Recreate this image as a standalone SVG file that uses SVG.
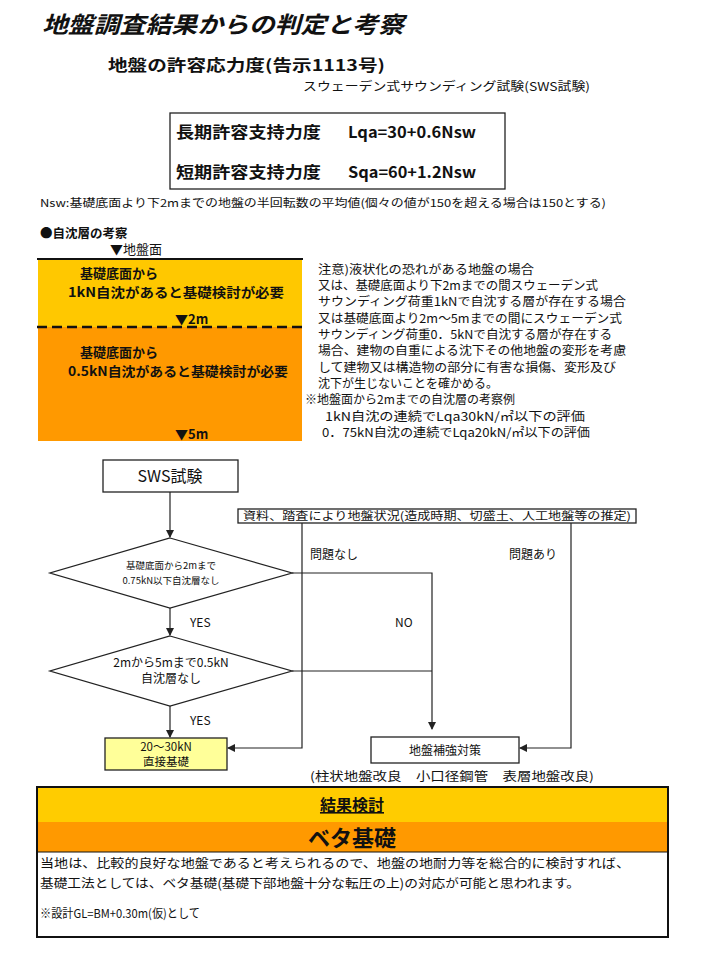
<svg xmlns="http://www.w3.org/2000/svg" width="720" height="960" viewBox="0 0 720 960">
<style>
text{font-family:"Noto Sans CJK JP","Liberation Sans",sans-serif;fill:#111}
.b{font-weight:bold}
.box{fill:#fff;stroke:#222;stroke-width:1.3}
.ln{fill:none;stroke:#222;stroke-width:1.2}
.n{font-size:11.5px}
.s{font-size:11px}
</style>
<defs>
<marker id="ah" markerWidth="8" markerHeight="8" refX="7" refY="4" orient="auto" markerUnits="userSpaceOnUse">
<path d="M0,0 L8,4 L0,8 z" fill="#222"/>
</marker>
</defs>
<rect width="720" height="960" fill="#fff"/>

<g id="title">
<text x="42" y="33" class="b" font-size="23" font-style="italic" textLength="362" lengthAdjust="spacingAndGlyphs">地盤調査結果からの判定と考察</text>
<text x="108" y="71" class="b" font-size="15.5" textLength="277" lengthAdjust="spacingAndGlyphs">地盤の許容応力度(告示1113号)</text>
<text x="303" y="91" font-size="12" textLength="287" lengthAdjust="spacingAndGlyphs">スウェーデン式サウンディング試験(SWS試験)</text>
</g>

<g id="formula">
<rect x="170" y="113" width="335" height="76" class="box"/>
<text x="176" y="138" class="b" font-size="15.5" textLength="145" lengthAdjust="spacingAndGlyphs">長期許容支持力度</text>
<text x="348" y="138" class="b" font-size="15.5" textLength="128" lengthAdjust="spacingAndGlyphs">Lqa=30+0.6Nsw</text>
<text x="176" y="178" class="b" font-size="15.5" textLength="145" lengthAdjust="spacingAndGlyphs">短期許容支持力度</text>
<text x="348" y="178" class="b" font-size="15.5" textLength="128" lengthAdjust="spacingAndGlyphs">Sqa=60+1.2Nsw</text>
</g>
<text x="40" y="207" class="s" textLength="566" lengthAdjust="spacingAndGlyphs">Nsw:基礎底面より下2mまでの地盤の半回転数の平均値(個々の値が150を超える場合は150とする)</text>

<g id="soil">
<text x="40" y="238" class="b" font-size="12.5">●自沈層の考察</text>
<text x="110" y="254" font-size="13">▼地盤面</text>
<rect x="38" y="259" width="264" height="68" fill="#FFC800"/>
<rect x="38" y="327" width="264" height="114" fill="#FF9900"/>
<line x1="37" y1="259" x2="303" y2="259" stroke="#111" stroke-width="2"/>
<line x1="37" y1="327" x2="303" y2="327" stroke="#111" stroke-width="2.5" stroke-dasharray="10,5"/>
<text x="80" y="278" class="b" font-size="13">基礎底面から</text>
<text x="68" y="297" class="b" font-size="13" textLength="216" lengthAdjust="spacingAndGlyphs">1kN自沈があると基礎検討が必要</text>
<text x="175" y="324" class="b" font-size="13">▼2m</text>
<text x="80" y="357" class="b" font-size="13">基礎底面から</text>
<text x="68" y="376" class="b" font-size="13" textLength="220" lengthAdjust="spacingAndGlyphs">0.5kN自沈があると基礎検討が必要</text>
<text x="175" y="439" class="b" font-size="13">▼5m</text>
</g>

<g id="notes" font-size="12">
<text x="318" y="274" textLength="216" lengthAdjust="spacingAndGlyphs">注意)液状化の恐れがある地盤の場合</text>
<text x="318" y="290" textLength="280" lengthAdjust="spacingAndGlyphs">又は、基礎底面より下2mまでの間スウェーデン式</text>
<text x="318" y="306" textLength="308" lengthAdjust="spacingAndGlyphs">サウンディング荷重1kNで自沈する層が存在する場合</text>
<text x="318" y="323" textLength="304" lengthAdjust="spacingAndGlyphs">又は基礎底面より2m〜5mまでの間にスウェーデン式</text>
<text x="318" y="339" textLength="294" lengthAdjust="spacingAndGlyphs">サウンディング荷重0．5kNで自沈する層が存在する</text>
<text x="318" y="355" textLength="308" lengthAdjust="spacingAndGlyphs">場合、建物の自重による沈下その他地盤の変形を考慮</text>
<text x="318" y="372" textLength="298" lengthAdjust="spacingAndGlyphs">して建物又は構造物の部分に有害な損傷、変形及び</text>
<text x="318" y="388" textLength="180" lengthAdjust="spacingAndGlyphs">沈下が生じないことを確かめる。</text>
<text x="305" y="404" textLength="210" lengthAdjust="spacingAndGlyphs">※地盤面から2mまでの自沈層の考察例</text>
<text x="325" y="421" textLength="260" lengthAdjust="spacingAndGlyphs">1kN自沈の連続でLqa30kN/㎡以下の評価</text>
<text x="322" y="437" textLength="268" lengthAdjust="spacingAndGlyphs">0．75kN自沈の連続でLqa20kN/㎡以下の評価</text>
</g>

<g id="connectors" class="ln">
<line x1="170" y1="492" x2="170" y2="537" marker-end="url(#ah)"/>
<line x1="170" y1="608" x2="170" y2="635" marker-end="url(#ah)"/>
<line x1="170" y1="706" x2="170" y2="737" marker-end="url(#ah)"/>
<polyline points="292,573 432,573 432,729" marker-end="url(#ah)"/>
<line x1="292" y1="671" x2="432" y2="671"/>
<polyline points="302,523 302,748 228,748" marker-end="url(#ah)"/>
<polyline points="571,523 571,748 520,748" marker-end="url(#ah)"/>
</g>

<g id="sws">
<rect x="103" y="460" width="135" height="32" class="box"/>
<text x="170" y="482" text-anchor="middle" font-size="16">SWS試験</text>
</g>
<g id="survey">
<rect x="238" y="509" width="398" height="14" class="box"/>
<text x="437" y="520" text-anchor="middle" font-size="11" textLength="388" lengthAdjust="spacingAndGlyphs">資料、踏査により地盤状況(造成時期、切盛土、人工地盤等の推定)</text>
</g>
<g id="d1">
<polygon points="170,538 292,573 170,608 50,573" class="box"/>
<text x="171" y="569" text-anchor="middle" font-size="9.5">基礎底面から2mまで</text>
<text x="171" y="584" text-anchor="middle" font-size="9.5">0.75kN以下自沈層なし</text>
</g>
<g id="d2">
<polygon points="170,636 292,671 170,706 50,671" class="box"/>
<text x="171" y="667" text-anchor="middle" font-size="12">2mから5mまで0.5kN</text>
<text x="171" y="683" text-anchor="middle" font-size="12">自沈層なし</text>
</g>
<g id="labels" font-size="12">
<text x="190" y="627">YES</text>
<text x="190" y="725">YES</text>
<text x="395" y="627">NO</text>
<text x="310" y="559">問題なし</text>
<text x="509" y="559">問題あり</text>
</g>
<g id="direct">
<rect x="105" y="738" width="122" height="32" fill="#FFFF99" stroke="#222" stroke-width="1.3"/>
<text x="166" y="751" text-anchor="middle" font-size="11.5">20〜30kN</text>
<text x="166" y="766" text-anchor="middle" font-size="11.5">直接基礎</text>
</g>
<g id="reinforce">
<rect x="371" y="737" width="148" height="26" class="box"/>
<text x="445" y="755" text-anchor="middle" font-size="12">地盤補強対策</text>
</g>
<text x="310" y="781" font-size="12" textLength="284" lengthAdjust="spacingAndGlyphs">(柱状地盤改良　小口径鋼管　表層地盤改良)</text>

<g id="result">
<rect x="37" y="787" width="631" height="150" fill="#fff" stroke="#111" stroke-width="2"/>
<rect x="38" y="788" width="629" height="34" fill="#FFCC00"/>
<rect x="38" y="822" width="629" height="30" fill="#FF9900"/>
<line x1="37" y1="852" x2="668" y2="852" stroke="#111" stroke-width="1"/>
<text x="352" y="811" text-anchor="middle" class="b" font-size="16" text-decoration="underline">結果検討</text>
<text x="352" y="846" text-anchor="middle" class="b" font-size="22">ベタ基礎</text>
<text x="40" y="868" font-size="12.5" textLength="590" lengthAdjust="spacingAndGlyphs">当地は、比較的良好な地盤であると考えられるので、地盤の地耐力等を総合的に検討すれば、</text>
<text x="40" y="888" font-size="12.5" textLength="540" lengthAdjust="spacingAndGlyphs">基礎工法としては、ベタ基礎(基礎下部地盤十分な転圧の上)の対応が可能と思われます。</text>
<text x="40" y="918" font-size="12" textLength="160" lengthAdjust="spacingAndGlyphs">※設計GL=BM+0.30m(仮)として</text>
</g>
</svg>
